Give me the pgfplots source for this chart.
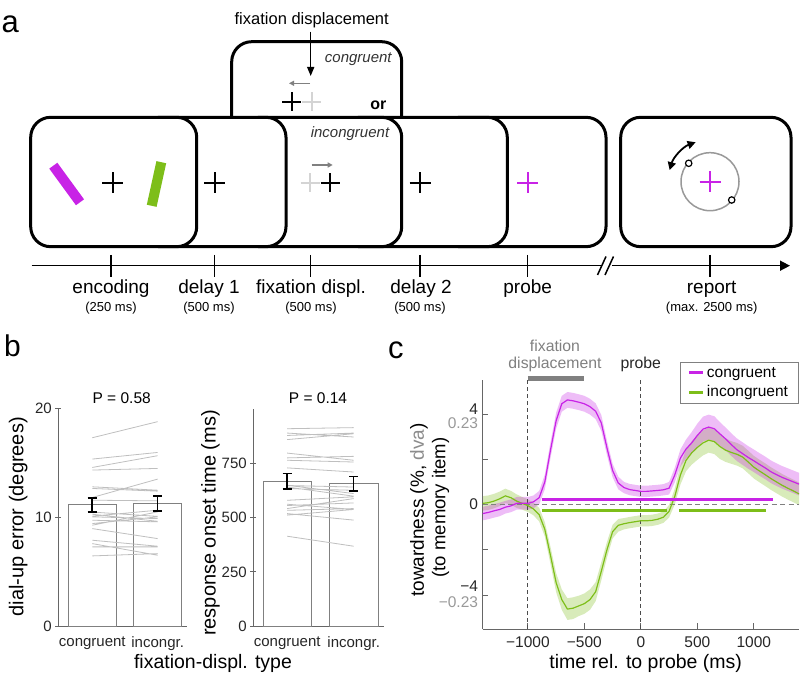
\documentclass[border=0pt]{standalone}
\usepackage{fontspec}
\setmainfont{Liberation Sans}
\usepackage{pgfplots}
\pgfplotsset{compat=1.18}
\usepackage{pgfplotstable}
\usetikzlibrary{arrows.meta}
\definecolor{cmag}{RGB}{200,35,230}
\definecolor{cgrn}{RGB}{125,190,25}
\definecolor{lgray}{RGB}{212,212,212}
\newcommand{\fs}[1]{\fontsize{#1}{#1}\selectfont}
\newcommand{\crs}[4][black]{\draw[#1, line width=2pt] (#2,#3) ++(-#4,0) -- ++(2*#4,0) (#2,#3) ++(0,-#4) -- ++(0,2*#4);}

\pgfplotstableread{
t mc ec mi ei
-1400 -0.40 0.30 0.05 0.32
-1350 -0.35 0.30 0.08 0.32
-1300 -0.28 0.30 0.15 0.32
-1250 -0.22 0.30 0.25 0.32
-1200 -0.12 0.28 0.38 0.32
-1150 -0.06 0.28 0.30 0.30
-1100 0.05 0.28 0.15 0.30
-1050 0.06 0.28 0.05 0.28
-1000 0.05 0.28 -0.05 0.28
-950 0.12 0.28 -0.20 0.28
-900 0.30 0.30 -0.45 0.30
-850 1.00 0.32 -1.10 0.32
-800 2.40 0.35 -2.25 0.38
-750 3.70 0.35 -3.45 0.42
-700 4.45 0.35 -4.20 0.45
-650 4.62 0.35 -4.62 0.48
-600 4.58 0.35 -4.58 0.48
-550 4.52 0.35 -4.48 0.45
-500 4.45 0.35 -4.38 0.45
-450 4.32 0.35 -4.20 0.45
-400 4.12 0.35 -3.85 0.42
-350 3.60 0.35 -2.95 0.40
-300 2.50 0.32 -2.00 0.35
-250 1.50 0.30 -1.20 0.30
-200 0.95 0.28 -0.92 0.28
-150 0.75 0.25 -0.85 0.25
-100 0.66 0.25 -0.80 0.25
-50 0.62 0.25 -0.76 0.25
0 0.58 0.25 -0.72 0.25
50 0.58 0.25 -0.72 0.25
100 0.60 0.25 -0.70 0.25
150 0.62 0.25 -0.65 0.25
200 0.65 0.25 -0.56 0.25
250 0.72 0.28 -0.30 0.28
300 1.30 0.32 0.35 0.35
350 2.05 0.38 1.30 0.42
400 2.45 0.42 1.95 0.48
450 2.72 0.48 2.28 0.52
500 3.05 0.52 2.52 0.55
550 3.33 0.55 2.72 0.55
600 3.42 0.55 2.84 0.55
650 3.35 0.55 2.78 0.55
700 3.12 0.52 2.56 0.55
750 2.90 0.50 2.40 0.52
800 2.65 0.50 2.30 0.50
850 2.42 0.50 2.22 0.50
900 2.25 0.50 2.10 0.50
950 2.08 0.50 1.88 0.50
1000 1.93 0.50 1.65 0.50
1050 1.77 0.50 1.48 0.50
1100 1.62 0.50 1.32 0.50
1150 1.45 0.50 1.15 0.50
1200 1.32 0.50 1.00 0.50
1250 1.20 0.50 0.85 0.50
1300 1.10 0.50 0.72 0.50
1350 1.00 0.50 0.60 0.50
1400 0.90 0.50 0.47 0.50
}\curves

\pgfplotsset{
  cgeom/.style={at={(482.7pt,48pt)}, anchor=south west, scale only axis,
    width=316.3pt, height=249pt,
    xmin=-1400, xmax=1400, ymin=-5.5, ymax=5.5},
}

\begin{document}
\begin{tikzpicture}[x=1pt,y=1pt]

% ================= Panel a (schematic) and free text, image coordinates =================
\begin{scope}[shift={(0,677)}, yscale=-1]
\node[anchor=base west, inner sep=0pt, font=\fs{31}] at (1.5,32.7) {a};
\node[anchor=base west, inner sep=0pt, font=\fs{30}] at (4,356.7) {b};
\node[anchor=base west, inner sep=0pt, font=\fs{31}] at (388,358.3) {c};

\node[font=\fs{16.5}, inner sep=0pt] at (311.7,20.7) {fixation displacement};
% top (congruent) box
\draw[line width=3pt, fill=white, rounded corners=20pt] (231.7,41.7) rectangle (401.7,210);
\draw[line width=1.5pt, -{Triangle[length=9pt,width=7pt]}] (310.7,31.7) -- (310.7,76);
\node[font=\fs{15}\itshape, text=black!80, inner sep=0pt] at (358.3,59) {congruent};
\crs[lgray]{311.7}{101.7}{9.5}
\crs{291.7}{101.7}{9.5}
\draw[black!50, line width=1.5pt, -{Triangle[length=5pt,width=5pt]}] (310,83.3) -- (289,83.3);
\node[font=\fs{16}\bfseries, inner sep=0pt] at (378.3,105.3) {or};

% row of boxes (back to front)
\draw[line width=3pt, fill=white, rounded corners=20pt] (440,117.3) rectangle (606,246.7);
\draw[line width=3pt, fill=white, rounded corners=20pt] (340,117.3) rectangle (507.3,246.7);
\draw[line width=3pt, fill=white, rounded corners=20pt] (240,117.3) rectangle (401.7,246.7);
\draw[line width=3pt, fill=white, rounded corners=20pt] (140,117.3) rectangle (286,246.7);
\draw[line width=3pt, fill=white, rounded corners=20pt] (30.7,117.3) rectangle (196.7,246.7);
\draw[line width=3pt, fill=white, rounded corners=20pt] (620.7,117.3) rectangle (791,246.7);

% encoding
\draw[cmag, line width=10pt] (53.3,165.7) -- (80,202.3);
\draw[cgrn, line width=10pt] (161.3,162.2) -- (151.7,205.8);
\crs{112.7}{182.7}{10.5}
% delay 1
\crs{214.7}{182.7}{10.5}
% fixation displ. incongruent
\node[font=\fs{15}\itshape, text=black!80, inner sep=0pt] at (350,134) {incongruent};
\crs[lgray]{310}{182.7}{9.5}
\crs{330}{182.7}{9.5}
\draw[black!50, line width=1.5pt, -{Triangle[length=5pt,width=5pt]}] (311.7,165) -- (332.7,165);
% delay 2
\crs{420}{182.7}{10.5}
% probe
\crs[cmag]{527.7}{182.7}{10.5}
% report
\draw[black!40, line width=1.5pt] (710,181.7) circle (29);
\crs[cmag]{710}{181.7}{10.5}
\draw[fill=white, draw=black, line width=1.2pt] (688.7,163.3) circle (3.2) (731.7,200) circle (3.2);
\draw[line width=1.8pt, {Triangle[length=8pt,width=8pt]}-{Triangle[length=8pt,width=8pt]}]
  (710,181.7) ++(196:42) arc[start angle=196, end angle=250, radius=42];

% timeline
\draw[line width=1.5pt, -{Triangle[length=10pt,width=10pt]}] (31.7,265.7) -- (790,265.7);
\fill[white] (600.5,259) rectangle (611.5,272);
\draw[line width=1.5pt] (597.5,275) -- (606,256.5) (605,275) -- (613.5,256.5);
\foreach \x in {111,214.7,310.7,420,527.7,710} \draw[line width=1.5pt] (\x,255) -- (\x,276.7);
\node[font=\fs{19}, anchor=base] at (111,294) {encoding};
\node[font=\fs{13}, anchor=base] at (111,312) {(250 ms)};
\node[font=\fs{19}, anchor=base] at (209,294) {delay 1};
\node[font=\fs{13}, anchor=base] at (209,312) {(500 ms)};
\node[font=\fs{19}, anchor=base] at (311,294) {fixation displ.};
\node[font=\fs{13}, anchor=base] at (311,312) {(500 ms)};
\node[font=\fs{19}, anchor=base] at (421,294) {delay 2};
\node[font=\fs{13}, anchor=base] at (420,312) {(500 ms)};
\node[font=\fs{19}, anchor=base] at (527.7,294) {probe};
\node[font=\fs{19}, anchor=base] at (711.7,294) {report};
\node[font=\fs{13}, anchor=base] at (711.7,312) {(max. 2500 ms)};

% panel b free text
\node[font=\fs{15.5}] at (121.7,397.7) {P = 0.58};
\node[font=\fs{15.5}] at (318,397.7) {P = 0.14};
\node[font=\fs{20}, rotate=90] at (18.3,516.7) {dial-up error (degrees)};
\node[font=\fs{20}, rotate=90] at (210.5,523) {response onset time (ms)};
\node[font=\fs{19.5}] at (213,663) {fixation-displ. type};

% panel c free text
\node[font=\fs{15.8}, text=black!50] at (555,346) {fixation};
\node[font=\fs{15.8}, text=black!50] at (555,364) {displacement};
\node[font=\fs{15.8}, text=black!85] at (640.7,364) {probe};
\node[font=\fs{19}, rotate=90] at (419,510) {towardness (\%, \textcolor{black!45}{dva})};
\node[font=\fs{18.5}, rotate=90] at (440.5,507.5) {(to memory item)};
\node[font=\fs{19.5}] at (645.7,663) {time rel. to probe (ms)};
\end{scope}

% ================= Panel b left =================
\begin{axis}[
  at={(58.3pt,50.7pt)}, anchor=south west, scale only axis,
  width=128.8pt, height=217.6pt,
  xmin=0.48, xmax=2.45, ymin=0, ymax=20,
  axis x line*=bottom, axis y line*=left,
  axis line style={black!60, line width=0.8pt},
  xtick={1,2}, xticklabels={congruent, incongr.},
  ytick={0,10,20}, yticklabels={0,10,20},
  major x tick style={draw=none},
  tick style={black!60, line width=0.8pt},
  tick align=center, major tick length=6pt,
  tick label style={font=\fs{15}, text=black!85},
  xticklabel style={yshift=-4pt},
  clip=false,
]
\addplot[ybar, bar width=0.73, fill=white, draw=black!50, line width=0.8pt] coordinates {(1,11.16) (2,11.29)};
\addplot[black!25, line width=0.8pt, unbounded coords=jump] table {
x y
1 17.33
2 18.81
nan nan
1 15.37
2 15.98
nan nan
1 14.60
2 15.68
nan nan
1 14.36
2 14.51
nan nan
1 12.82
2 12.51
nan nan
1 11.84
2 13.53
nan nan
1 12.67
2 12.42
nan nan
1 11.59
2 11.53
nan nan
1 10.12
2 10.67
nan nan
1 10.06
2 9.90
nan nan
1 9.75
2 9.60
nan nan
1 9.44
2 10.06
nan nan
1 9.29
2 10.52
nan nan
1 8.98
2 8.06
nan nan
1 7.91
2 7.36
nan nan
1 7.60
2 6.53
nan nan
1 7.30
2 7.30
nan nan
1 6.47
2 6.68
nan nan
1 10.30
2 9.65
nan nan
1 10.50
2 10.10
};
% error bars (mean +- SEM): stems and caps
\addplot[black, line width=1.6pt, unbounded coords=jump] table {
x y
1 10.51
1 11.81
nan nan
0.929 10.51
1.071 10.51
nan nan
0.929 11.81
1.071 11.81
nan nan
2 10.59
2 11.99
nan nan
1.929 10.59
2.071 10.59
nan nan
1.929 11.99
2.071 11.99
};
\end{axis}

% ================= Panel b right =================
\begin{axis}[
  at={(253.3pt,50.7pt)}, anchor=south west, scale only axis,
  width=130.3pt, height=217.6pt,
  xmin=0.49, xmax=2.45, ymin=0, ymax=1000,
  axis x line*=bottom, axis y line*=left,
  axis line style={black!60, line width=0.8pt},
  xtick={1,2}, xticklabels={congruent, incongr.},
  ytick={0,250,500,750}, yticklabels={0,250,500,750},
  major x tick style={draw=none},
  tick style={black!60, line width=0.8pt},
  tick align=center, major tick length=6pt,
  tick label style={font=\fs{15}, text=black!85},
  xticklabel style={yshift=-4pt},
  clip=false,
]
\addplot[ybar, bar width=0.73, fill=white, draw=black!50, line width=0.8pt] coordinates {(1,665) (2,657)};
\addplot[black!25, line width=0.8pt, unbounded coords=jump] table {
x y
1 908
2 913
nan nan
1 888
2 870
nan nan
1 877
2 888
nan nan
1 858
2 885
nan nan
1 796
2 763
nan nan
1 774
2 781
nan nan
1 763
2 755
nan nan
1 728
2 709
nan nan
1 648
2 610
nan nan
1 647
2 640
nan nan
1 640
2 598
nan nan
1 633
2 625
nan nan
1 579
2 595
nan nan
1 561
2 537
nan nan
1 555
2 567
nan nan
1 541
2 587
nan nan
1 533
2 541
nan nan
1 518
2 488
nan nan
1 511
2 537
nan nan
1 414
2 368
};
\addplot[black, line width=1.6pt, unbounded coords=jump] table {
x y
1 630
1 702
nan nan
0.93 630
1.07 630
nan nan
0.93 702
1.07 702
nan nan
2 621
2 689
nan nan
1.93 621
2.07 621
nan nan
1.93 689
2.07 689
};
\end{axis}

% ================= Panel c: shaded bands (stacked areas) =================
\begin{axis}[cgeom, hide axis, stack plots=y]
\addplot[draw=none] table[x=t, y expr=\thisrow{mi}-\thisrow{ei}] {\curves};
\addplot[fill=cgrn, fill opacity=0.3, draw=none] table[x=t, y expr=2*\thisrow{ei}] {\curves} \closedcycle;
\end{axis}
\begin{axis}[cgeom, hide axis, stack plots=y]
\addplot[draw=none] table[x=t, y expr=\thisrow{mc}-\thisrow{ec}] {\curves};
\addplot[fill=cmag, fill opacity=0.3, draw=none] table[x=t, y expr=2*\thisrow{ec}] {\curves} \closedcycle;
\end{axis}

% ================= Panel c: main axis =================
\begin{axis}[
  cgeom,
  axis x line*=bottom, axis y line*=left,
  axis line style={black!60, line width=0.8pt},
  xtick={-1000,-500,0,500,1000},
  xticklabels={−1000,−500,0,500,1000},
  ytick={-4,-2,0,2,4}, yticklabels={,,,,},
  extra y ticks={4.2,3.58,0,-3.6,-4.3},
  extra y tick labels={4,\textcolor{black!40}{0.23},0,−4,\textcolor{black!40}{−0.23}},
  extra y tick style={major tick length=0pt},
  tick style={black!60, line width=0.8pt},
  tick align=inside, major tick length=5.5pt,
  tick label style={font=\fs{15.5}, text=black!85},
  yticklabel style={inner sep=0pt, xshift=-4.5pt},
  xticklabel style={yshift=-4pt},
  legend style={at={(0.998,1.073)}, anchor=north east, draw=black!50, line width=0.8pt,
    fill=white, font=\fs{15.5}, inner xsep=8pt, inner ysep=3pt, row sep=3pt},
  legend cell align=left,
  legend image code/.code={\draw[#1] (0pt,0pt) -- (14pt,0pt);},
]
\addplot[black!50, line width=1pt, dash pattern=on 5pt off 3.5pt, forget plot] coordinates {(-1400,0) (1400,0)};
\addplot[black!70, line width=0.8pt, dash pattern=on 4pt off 3pt, forget plot] coordinates {(-1000,-5.5) (-1000,5.5)};
\addplot[black!70, line width=0.8pt, dash pattern=on 4pt off 3pt, forget plot] coordinates {(0,-5.5) (0,5.5)};
\addplot[cgrn, line width=1.2pt, forget plot] table[x=t, y=mi] {\curves};
\addplot[cmag, line width=1.2pt, forget plot] table[x=t, y=mc] {\curves};
\addplot[cmag, line width=2.8pt, forget plot] coordinates {(-876,0.21) (1173,0.21)};
\addplot[cgrn, line width=2.8pt, forget plot] coordinates {(-876,-0.28) (232,-0.28)};
\addplot[cgrn, line width=2.8pt, forget plot] coordinates {(339,-0.28) (1104,-0.28)};
\addlegendimage{cmag, line width=3pt}
\addlegendentry{congruent}
\addlegendimage{cgrn, line width=3pt}
\addlegendentry{incongruent}
\end{axis}

% overlay axis for the fixation-displacement bar above panel c
\begin{axis}[cgeom, hide axis, clip=false]
\addplot[black!50, line width=4.5pt] coordinates {(-1000,5.56) (-500,5.56)};
\end{axis}

\pgfresetboundingbox
\useasboundingbox (0,0) rectangle (800,677);
\end{tikzpicture}
\end{document}
